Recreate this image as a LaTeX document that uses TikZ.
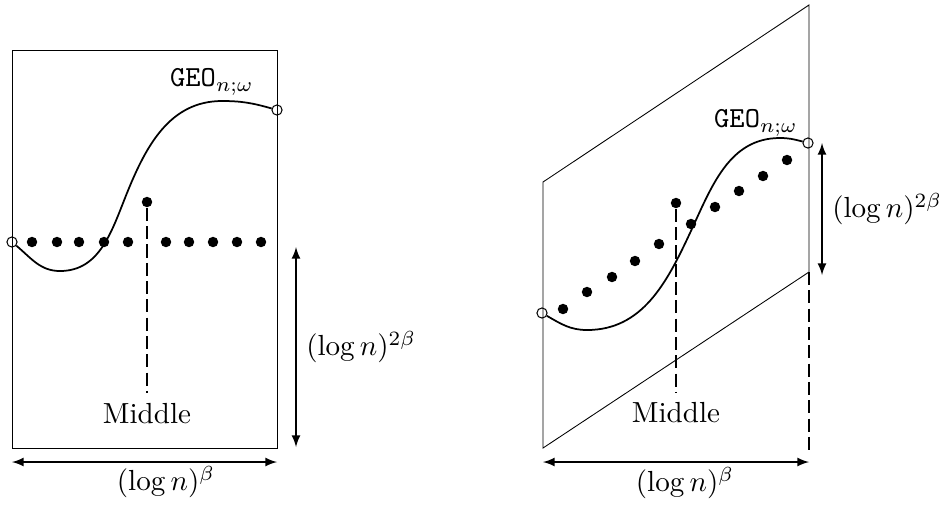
\documentclass[tikz,border=0pt]{standalone}
\usepackage{amsmath,amssymb}
\usetikzlibrary{arrows,positioning}

\tikzset{
  bead/.style={circle,fill=black,inner sep=0pt,minimum size=3.6pt},
  endpt/.style={circle,draw,line width=0.35pt,inner sep=0pt,minimum size=3.5pt},
  guide/.style={dash pattern=on 4.5pt off 1.8pt},
  frame/.style={line width=0.3pt},
  geod/.style={line width=0.6pt},
}

\begin{document}
\begin{tikzpicture}[>=latex, x=0.344pt, y=0.344pt]
    \useasboundingbox (0,0) rectangle (939,504);
    % straight box
    \draw[frame] (12,56) rectangle (277,454);
    \node[endpt] (p0) at (12,262) {};  \node[endpt] (p1) at (277,394) {};
    \draw[geod] (p0) to[out=-40,in=180] (60,233) to[out=0,in=-112] (127,311)
          to[out=68,in=180] (222,403) to[out=0,in=164] (p1);
    \node[bead] (a1) at (32,262) {};   \node[bead] (a2) at (57,262) {};
    \node[bead] (a3) at (79,262) {};   \node[bead] (a4) at (104,262) {};
    \node[bead] (a5) at (128,262) {};  \node[bead] (a6) at (166,262) {};
    \node[bead] (a7) at (189,262) {};  \node[bead] (a8) at (213,262) {};
    \node[bead] (a9) at (237,262) {};  \node[bead] (a10) at (261,262) {};
    \node[bead] (m0) at (147,302) {};
    \coordinate (m0b) at (147,111);
    \draw[guide] (m0) -- (m0b);
    \node[below=0pt of m0b] (mid0) {Middle};
    \node (geo0) at (212,422) {$\texttt{GEO}_{n;\omega}$};
    \coordinate (h0b) at (296,57);  \coordinate (h0t) at (296,257);
    \draw[<->] (h0b) -- node[right] {$(\log n)^{2\beta}$} (h0t);
    \coordinate (w0l) at (12,42);   \coordinate (w0r) at (277,42);
    \draw[<->] (w0l) -- (w0r);
    \node (len0) at (166,22) {$(\log n)^{\beta}$};

    % tilted box
    \coordinate (c0) at (543,56);   \coordinate (c1) at (809,232);
    \coordinate (c2) at (809,499);  \coordinate (c3) at (543,322);
    \draw[frame] (c0) -- (c1) -- (c2) -- (c3) -- cycle;
    \node[endpt] (q0) at (542,191) {};  \node[endpt] (q1) at (808,361) {};
    \draw[geod] (q0) to[out=-30,in=180] (587,174) to[out=0,in=-115] (690,271)
          to[out=65,in=180] (780,366) to[out=0,in=165] (q1);
    \node[bead] (b1) at (563,195) {};  \node[bead] (b2) at (587,212) {};
    \node[bead] (b3) at (612,227) {};  \node[bead] (b4) at (635,243) {};
    \node[bead] (b5) at (659,260) {};  \node[bead] (b6) at (691,280) {};
    \node[bead] (b7) at (715,297) {};  \node[bead] (b8) at (739,313) {};
    \node[bead] (b9) at (763,328) {};  \node[bead] (b10) at (787,344) {};
    \node[bead] (m1) at (676,301) {};
    \coordinate (m1b) at (676,112);
    \draw[guide] (m1) -- (m1b);
    \node[below=0pt of m1b] (mid1) {Middle};
    \coordinate (c1b) at (809,54);
    \draw[guide] (c1) -- (c1b);
    \node (geo1) at (756,381) {$\texttt{GEO}_{n;\omega}$};
    \coordinate (h1b) at (822,229);  \coordinate (h1t) at (822,361);
    \draw[<->] (h1b) -- node[right] {$(\log n)^{2\beta}$} (h1t);
    \coordinate (w1l) at (543,42);   \coordinate (w1r) at (809,42);
    \draw[<->] (w1l) -- (w1r);
    \node (len1) at (685,21) {$(\log n)^{\beta}$};
\end{tikzpicture}
\end{document}
